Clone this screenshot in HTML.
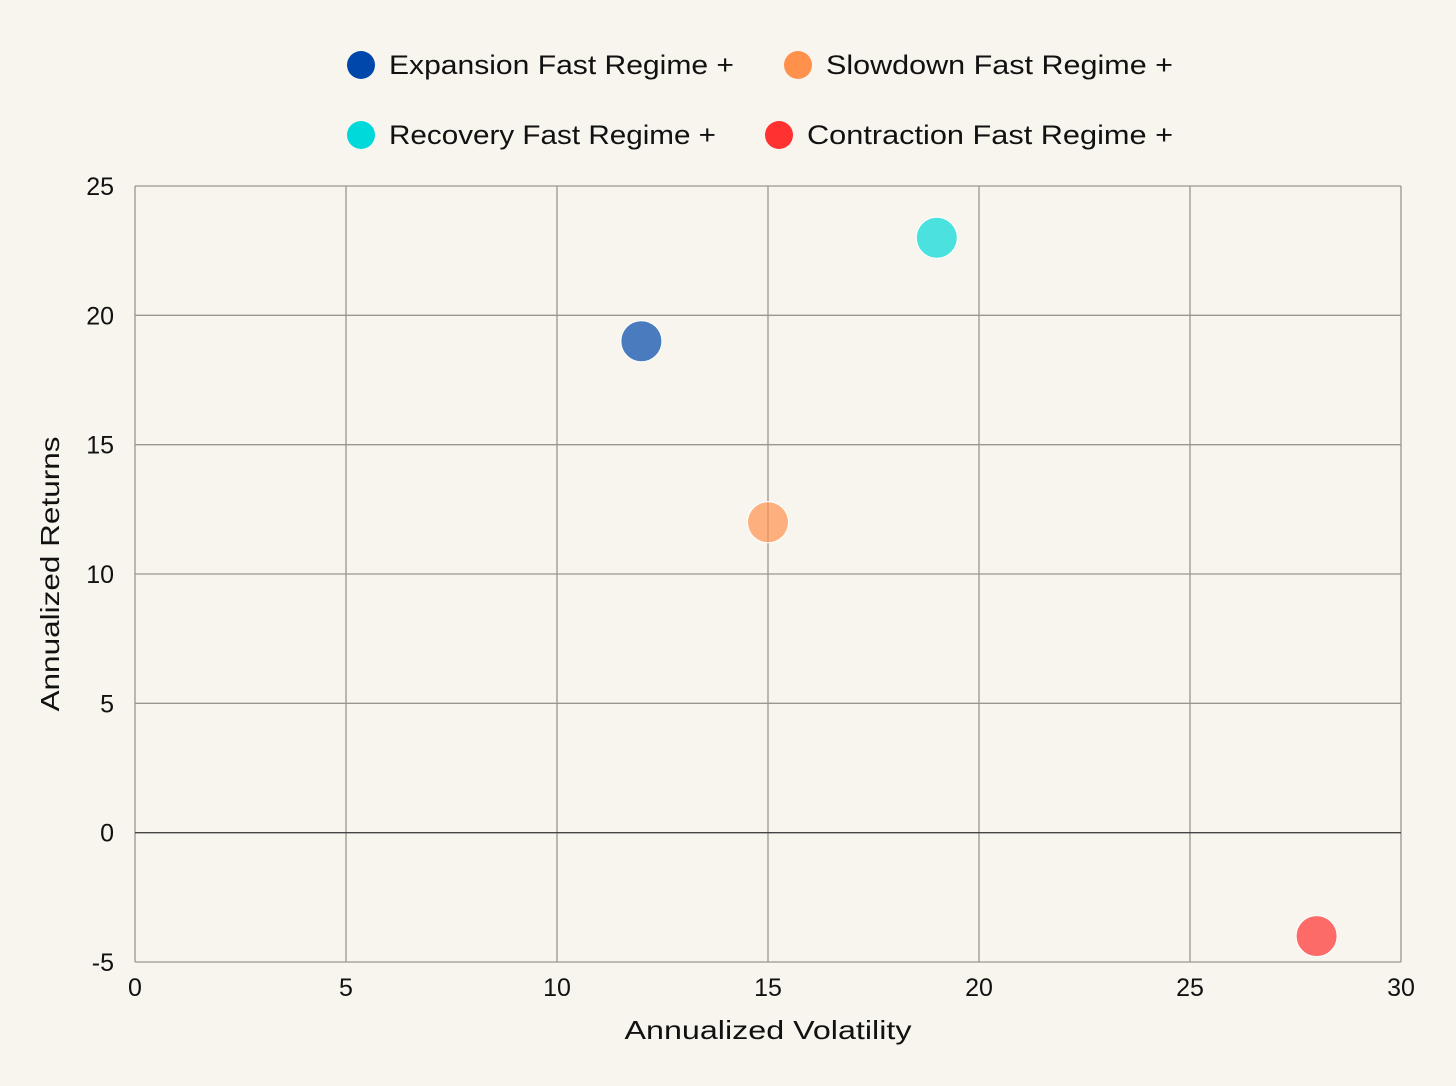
<!DOCTYPE html>
<html><head><meta charset="utf-8"><style>
body{margin:0;background:#f8f5ee;}
svg{display:block;font-family:"Liberation Sans",sans-serif;}
</style></head><body>
<svg id="chart" width="1456" height="1086">
<rect width="1456" height="1086" fill="#f8f5ee"/>
<g id="legend"></g>
<g id="grid"></g>
<g id="marks"></g>
<text x="768" y="1039" text-anchor="middle" font-size="26" fill="#111" textLength="287" lengthAdjust="spacingAndGlyphs">Annualized Volatility</text>
<text transform="translate(59,574) rotate(-90)" text-anchor="middle" font-size="26" fill="#111" textLength="275" lengthAdjust="spacingAndGlyphs">Annualized Returns</text>
</svg>
<script>
const seriesNames=["Expansion Fast Regime +","Slowdown Fast Regime +","Recovery Fast Regime +","Contraction Fast Regime +"];
const volatility=[12,15,19,28];
const returns=[19,12,23,-4];
const colors=["#0047ab","#ff914d","#00d9d9","#ff3131"];
const xTicks=[0,5,10,15,20,25,30];
const yTicks=[-5,0,5,10,15,20,25];
const NS="http://www.w3.org/2000/svg";
const X0=135,X1=1401,Y0=962,Y1=186;
const xs=v=>X0+(v-0)/(30-0)*(X1-X0);
const ys=v=>Y0-(v+5)/(25+5)*(Y0-Y1);
function mk(tag,attrs,parent,txt){const e=document.createElementNS(NS,tag);for(const k in attrs)e.setAttribute(k,attrs[k]);if(txt!==undefined)e.textContent=txt;parent.appendChild(e);return e;}
const grid=document.getElementById('grid');
xTicks.forEach(t=>{
  const l=mk('line',{x1:xs(t),x2:xs(t),y1:Y1,y2:Y0,stroke:'#9a968f','stroke-width':1.3},grid);
  
  
  const tx=mk('text',{x:xs(t),y:996,'text-anchor':'middle','font-size':25,fill:'#111'},grid,String(t));
  
  
});
yTicks.forEach(t=>{
  const l=mk('line',{x1:X0,x2:X1,y1:ys(t),y2:ys(t),stroke:t===0?'#444':'#9a968f','stroke-width':1.3},grid);
  
  
  const tx=mk('text',{x:114,y:ys(t)+9,'text-anchor':'end','font-size':25,fill:'#111'},grid,String(t));
  
  
});
const marks=document.getElementById('marks');
volatility.forEach((v,i)=>{
  const c=mk('circle',{cx:xs(v),cy:ys(returns[i]),r:20.5,fill:colors[i],'fill-opacity':0.7,stroke:'#fff','stroke-width':1},marks);
  
  
});
const legend=document.getElementById('legend');
const lpos=[[361,65],[798,65],[361,135],[779,135]];
const lwid=[345,347,327,366];
seriesNames.forEach((n,i)=>{
  const c=mk('circle',{cx:lpos[i][0],cy:lpos[i][1],r:14,fill:colors[i]},legend);
  
  
  const t=mk('text',{x:lpos[i][0]+28,y:lpos[i][1]+9,'font-size':27,fill:'#111',textLength:lwid[i],lengthAdjust:'spacingAndGlyphs'},legend,n);
  
  
});
</script>
</body></html>
